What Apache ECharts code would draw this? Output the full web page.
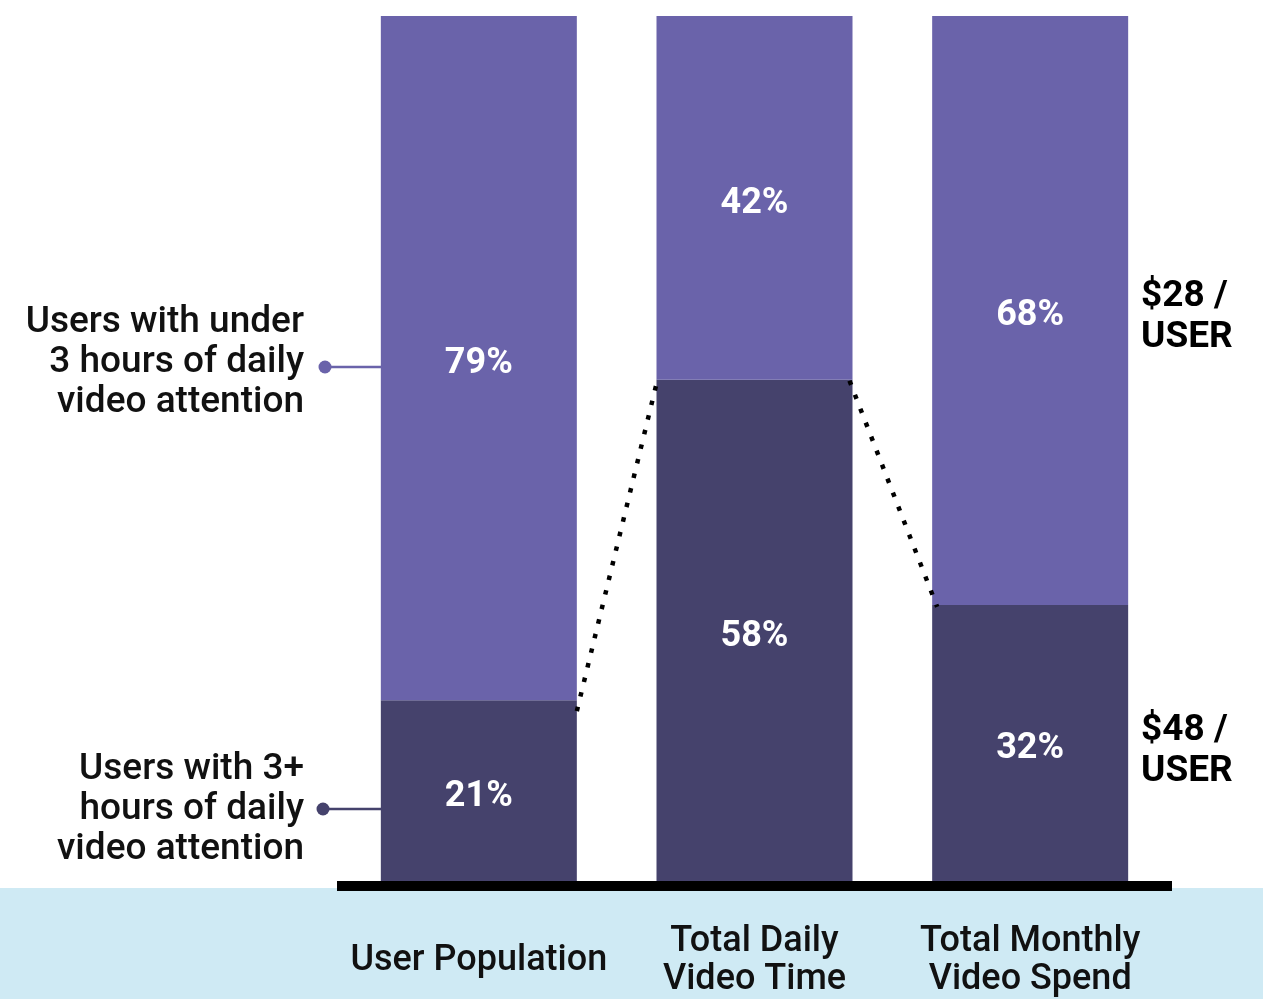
<!DOCTYPE html>
<html>
<head>
<meta charset="utf-8">
<script src="https://cdn.jsdelivr.net/npm/echarts@6/dist/echarts.min.js"></script>
<style>
  html, body { margin: 0; padding: 0; background: #fff; }
  #chart { width: 1263px; height: 999px; }
</style>
</head>
<body>
<div id="chart"></div>
<script>
// Share of users, daily video time and monthly video spend by viewing group
const categories = ['User Population', 'Total Daily\nVideo Time', 'Total Monthly\nVideo Spend'];
const heavyUsers = [21, 58, 32];   // 3+ hours of daily video attention
const lightUsers = [79, 42, 68];   // under 3 hours of daily video attention
const spendLabels = ['$48 /\nUSER', '$28 /\nUSER'];
const groupLabels = [
  'Users with under\n3 hours of daily\nvideo attention',
  'Users with 3+\nhours of daily\nvideo attention'
];

const LIGHT = '#6a63aa';
const DARK = '#45426c';
const FONT = 'Roboto, "Noto Sans", sans-serif';
const BAR_W = 196;

const chart = echarts.init(document.getElementById('chart'), null, { renderer: 'canvas' });

const valueLabel = {
  show: true,
  position: 'inside',
  offset: [0, 6],
  formatter: '{c}%',
  color: '#fff',
  fontFamily: FONT,
  fontWeight: 'bold',
  fontSize: 36
};

chart.setOption({
  animation: false,
  grid: { left: 341, right: 95, top: 16, bottom: 116 },
  xAxis: {
    type: 'category',
    data: categories,
    axisLine: { show: false },
    axisTick: { show: false },
    axisLabel: {
      interval: 0,
      margin: 79,
      verticalAlign: 'middle',
      color: '#111',
      fontFamily: FONT,
      fontWeight: 500,
      fontSize: 36,
      lineHeight: 38
    }
  },
  yAxis: {
    type: 'value',
    min: 0,
    max: 100,
    show: false,
    splitLine: { show: false }
  },
  series: [
    {
      name: '3+ hours',
      type: 'bar',
      stack: 'share',
      barWidth: BAR_W,
      data: heavyUsers,
      itemStyle: { color: DARK },
      label: valueLabel
    },
    {
      name: 'Under 3 hours',
      type: 'bar',
      stack: 'share',
      barWidth: BAR_W,
      data: lightUsers,
      itemStyle: { color: LIGHT },
      label: valueLabel
    }
  ]
});

// Decorations: light band under the axis, heavy baseline, callouts and connectors
const px = (i, v) => chart.convertToPixel({ gridIndex: 0 }, [i, v]);
const half = BAR_W / 2;

const p1 = px(0, heavyUsers[0]);
const p2 = px(1, heavyUsers[1]);
const p3 = px(2, heavyUsers[2]);

const dotted = {
  stroke: '#000',
  lineWidth: 4.5,
  lineDash: [4.5, 10.5],
  lineCap: 'butt'
};

const textStyle = (extra) => Object.assign({
  fontFamily: FONT,
  fontSize: 37,
  fontWeight: 500,
  fill: '#111',
  lineHeight: 40
}, extra);

chart.setOption({
  graphic: [
    { type: 'rect', z: -10, shape: { x: 0, y: 888, width: 1263, height: 111 }, style: { fill: '#cfeaf4' } },
    { type: 'rect', z: 100, shape: { x: 337, y: 881, width: 835, height: 10 }, style: { fill: '#000' } },

    { type: 'line', z: 50, shape: { x1: p1[0] + half, y1: p1[1] + 11, x2: p2[0] - half, y2: p2[1] + 4 }, style: dotted },
    { type: 'line', z: 50, shape: { x1: p2[0] + half - 3, y1: p2[1] + 1, x2: p3[0] - half + 5, y2: p3[1] + 2 }, style: dotted },

    // callout for the lighter group
    { type: 'line', z: 20, shape: { x1: 325, y1: 367, x2: 382, y2: 367 }, style: { stroke: LIGHT, lineWidth: 2.5 } },
    { type: 'circle', z: 20, shape: { cx: 325, cy: 367, r: 6.5 }, style: { fill: LIGHT } },
    { type: 'text', z: 20, x: 304, y: 363, style: textStyle({ text: groupLabels[0], align: 'right', verticalAlign: 'middle' }) },

    // callout for the heavier group
    { type: 'line', z: 20, shape: { x1: 323, y1: 809, x2: 382, y2: 809 }, style: { stroke: DARK, lineWidth: 2.5 } },
    { type: 'circle', z: 20, shape: { cx: 323, cy: 809, r: 6.5 }, style: { fill: DARK } },
    { type: 'text', z: 20, x: 304, y: 810, style: textStyle({ text: groupLabels[1], align: 'right', verticalAlign: 'middle' }) },

    // spend per user
    { type: 'text', z: 20, x: 1141, y: 317, style: textStyle({ text: spendLabels[1], fontWeight: 'bold', fontSize: 37, lineHeight: 41, fill: '#000', align: 'left', verticalAlign: 'middle' }) },
    { type: 'text', z: 20, x: 1141, y: 751, style: textStyle({ text: spendLabels[0], fontWeight: 'bold', fontSize: 37, lineHeight: 41, fill: '#000', align: 'left', verticalAlign: 'middle' }) }
  ]
});
</script>
</body>
</html>
